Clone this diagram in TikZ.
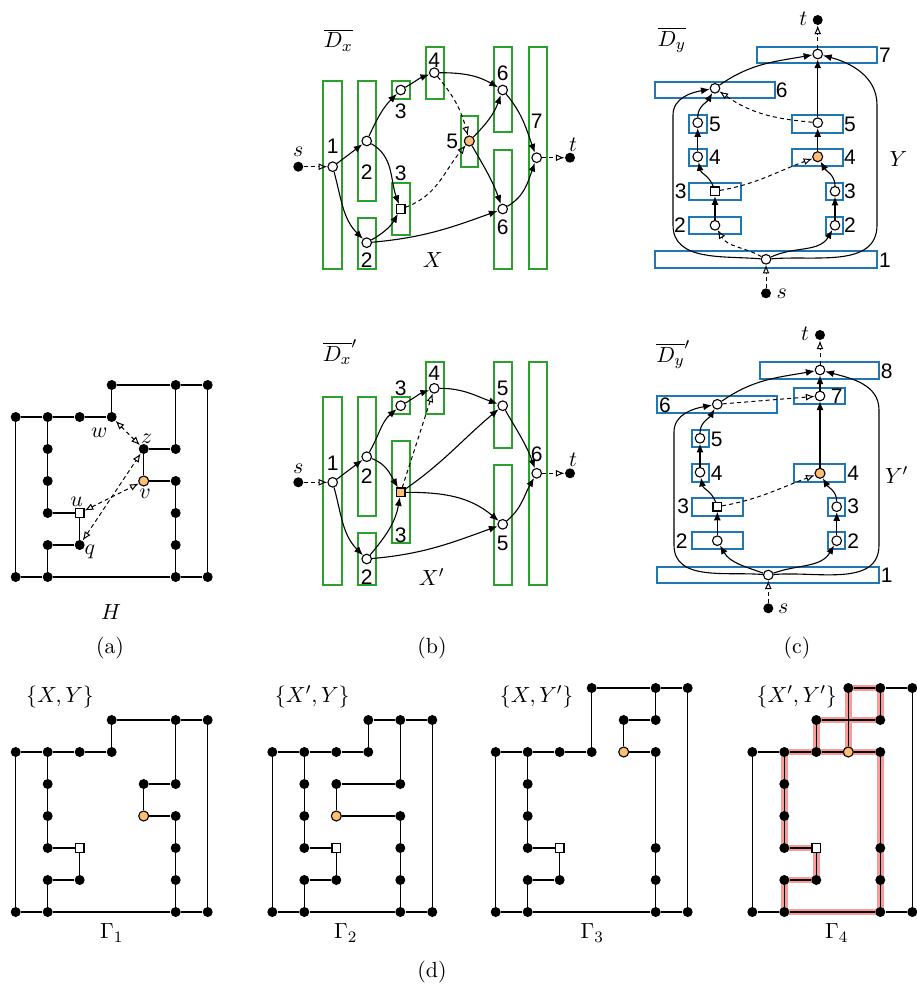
\documentclass[tikz,border=0pt]{standalone}
\usepackage{fontspec}
\newfontfamily\numfont{Liberation Sans}
\usetikzlibrary{arrows.meta,backgrounds}
\definecolor{mygreen}{RGB}{44,160,44}
\definecolor{myblue}{RGB}{31,119,180}
\definecolor{myorange}{RGB}{252,190,115}
\definecolor{myred}{RGB}{250,155,155}
\begin{document}
\begin{tikzpicture}[x=0.5pt,y=0.5pt,
  gdot/.style={circle,fill=black,inner sep=0pt,minimum size=5pt},
  odot/.style={circle,draw=black,fill=white,inner sep=0pt,minimum size=4.8pt,line width=0.55pt},
  orn/.style={circle,draw=black,fill=myorange,inner sep=0pt,minimum size=5pt,line width=0.55pt},
  sqn/.style={rectangle,draw=black,fill=white,inner sep=0pt,minimum size=4.3pt,line width=0.55pt},
  osq/.style={sqn,fill=myorange},
  gbox/.style={draw=mygreen,line width=1pt},
  bbox/.style={draw=myblue,line width=1pt},
  gline/.style={line width=0.65pt},
  hl/.style={line width=3.4pt,myred},
  arr/.style={line width=0.55pt,-{Latex[length=4.4pt,width=3.5pt]}},
  darr/.style={line width=0.5pt,dash pattern=on 2pt off 1.6pt,-{Latex[open,length=4.4pt,width=3.5pt]}},
  ddarr/.style={line width=0.5pt,dash pattern=on 2pt off 1.6pt,{Latex[open,length=4.4pt,width=3.5pt]}-{Latex[open,length=4.4pt,width=3.5pt]}},
  num/.style={font=\numfont\fontsize{10.5}{12}\selectfont,inner sep=0pt},
  lab/.style={font=\fontsize{10.95}{13}\selectfont,inner sep=0pt}]
\useasboundingbox (0,0) rectangle (916,-990);

% ---------------- (a) H ----------------
\begin{scope}[xshift=7.85pt,yshift=-192.5pt,x=16pt,y=-16pt]
\foreach \i/\j in {3/0,5/0,6/0,0/1,1/1,2/1,3/1,1/2,4/2,5/2,1/3,5/3,1/4,5/4,1/5,2/5,5/5,0/6,1/6,5/6,6/6}
  \node[gdot] (a\i\j) at (\i,\j) {};
\node[orn] (a43) at (4,3) {};
\node[sqn] (a24) at (2,4) {};
\draw[gline] (a30)--(a50)--(a60) (a30)--(a31) (a01)--(a11)--(a21)--(a31)
  (a50)--(a52) (a42)--(a52) (a42)--(a43) (a43)--(a53) (a53)--(a54)--(a55)--(a56)
  (a11)--(a12)--(a13)--(a14) (a14)--(a24)--(a25)--(a15)--(a16)
  (a01)--(a06) (a60)--(a66) (a06)--(a16)--(a56)--(a66);
\draw[ddarr] (a31)--(a42);
\draw[ddarr] (a24)--(a43);
\draw[ddarr] (a25)--(a42);
\end{scope}
\node[lab] at (99.3,-432.3) {$w$};
\node[lab] at (146.7,-438.3) {$z$};
\node[lab] at (76.7,-501.7) {$u$};
\node[lab] at (145,-494) {$v$};
\node[lab] at (90,-551.7) {$q$};
\node[lab] at (111,-612) {$H$};
\node[lab] at (110,-648) {(a)};

% ---------------- (b) top ----------------
\draw[gbox] (323.3,-81) rectangle (341.7,-269.3);
\draw[gbox] (357.7,-81) rectangle (376,-201);
\draw[gbox] (357.7,-217.7) rectangle (376,-269.3);
\draw[gbox] (392.3,-81) rectangle (410,-98.7);
\draw[gbox] (392.3,-183.3) rectangle (410,-235);
\draw[gbox] (426,-46.7) rectangle (444,-98.7);
\draw[gbox] (460.7,-115.7) rectangle (478.3,-166.7);
\draw[gbox] (494.3,-46.7) rectangle (512.3,-132);
\draw[gbox] (494.3,-150) rectangle (512.3,-269.3);
\draw[gbox] (529,-46.7) rectangle (546.7,-269.3);
\node[gdot] (bs) at (298.3,-166.7) {};
\node[odot] (b1) at (332.7,-166.7) {};
\node[odot] (b2a) at (366.7,-141) {};
\node[odot] (b2b) at (366.7,-242.7) {};
\node[odot] (b3a) at (400.7,-90) {};
\node[sqn] (b3b) at (400.7,-209) {};
\node[odot] (b4) at (434.3,-72.7) {};
\node[orn] (b5) at (469.3,-141) {};
\node[odot] (b6a) at (502.7,-90) {};
\node[odot] (b6b) at (502.7,-209) {};
\node[odot] (b7) at (536.7,-157.7) {};
\node[gdot] (bt) at (570,-157.7) {};
\draw[darr] (bs) -- (b1);
\draw[arr] (b1) -- (b2a);
\draw[arr] (b1) to[out=-75,in=135] (b2b);
\draw[arr] (b2a) to[out=65,in=225] (b3a);
\draw[arr] (b2a) to[out=-30,in=110] (b3b);
\draw[arr] (b2b) to[out=30,in=240] (b3b);
\draw[arr] (b2b) to[out=5,in=200] (b6b);
\draw[arr] (b3a) to[out=30,in=200] (b4);
\draw[arr] (b4) to[out=0,in=150] (b6a);
\draw[darr] (b4) to[out=-50,in=105] (b5);
\draw[darr] (b3b) to[out=20,in=230] (b5);
\draw[arr] (b5) to[out=45,in=250] (b6a);
\draw[arr] (b5) to[out=-60,in=110] (b6b);
\draw[arr] (b6a) to[out=-50,in=110] (b7);
\draw[arr] (b6b) to[out=30,in=250] (b7);
\draw[darr] (b7) -- (bt);
\node[num] at (332.7,-146.7) {1};
\node[num] at (366.7,-171.7) {2};
\node[num] at (366.7,-260) {2};
\node[num] at (400.7,-111.7) {3};
\node[num] at (400.7,-173.3) {3};
\node[num] at (434.3,-60) {4};
\node[num] at (452.3,-141) {5};
\node[num] at (502.7,-73.3) {6};
\node[num] at (502.7,-227.3) {6};
\node[num] at (536.7,-121.7) {7};
\node[lab] at (298.3,-151.7) {$s$};
\node[lab] at (573,-145) {$t$};
\node[lab] at (432.7,-260) {$X$};
\node[lab] at (338.3,-40) {$\overline{D_x}$};

% ---------------- (b) bottom ----------------
\draw[gbox] (323.3,-396.7) rectangle (341.7,-585);
\draw[gbox] (357.7,-396.7) rectangle (376,-516);
\draw[gbox] (357.7,-533.3) rectangle (376,-585);
\draw[gbox] (392.3,-396.7) rectangle (410,-414);
\draw[gbox] (392.3,-441) rectangle (410,-543.3);
\draw[gbox] (426,-362.3) rectangle (444,-414);
\draw[gbox] (494.3,-362.3) rectangle (512.3,-448.3);
\draw[gbox] (494.3,-465) rectangle (512.3,-585);
\draw[gbox] (529,-362.3) rectangle (546.7,-585);
\node[gdot] (es) at (298.3,-482.3) {};
\node[odot] (e1) at (332.7,-482.3) {};
\node[odot] (e2a) at (366.7,-456.7) {};
\node[odot] (e2b) at (366.7,-559) {};
\node[odot] (e3a) at (400.7,-405.7) {};
\node[osq] (e3b) at (400.7,-492.3) {};
\node[odot] (e4) at (434.3,-388.3) {};
\node[odot] (e5a) at (502.7,-405.7) {};
\node[odot] (e5b) at (502.7,-524.3) {};
\node[odot] (e6) at (536.7,-473.3) {};
\node[gdot] (et) at (570,-473.3) {};
\draw[darr] (es) -- (e1);
\draw[arr] (e1) -- (e2a);
\draw[arr] (e1) to[out=-75,in=135] (e2b);
\draw[arr] (e2a) to[out=60,in=220] (e3a);
\draw[arr] (e2a) to[out=-20,in=120] (e3b);
\draw[arr] (e2b) to[out=50,in=260] (e3b);
\draw[arr] (e2b) to[out=5,in=200] (e5b);
\draw[arr] (e3a) to[out=30,in=200] (e4);
\draw[darr] (e3b) -- (e4);
\draw[arr] (e3b) to[out=35,in=220] (e5a);
\draw[arr] (e3b) to[out=0,in=140] (e5b);
\draw[arr] (e4) to[out=0,in=160] (e5a);
\draw[arr] (e5a) to[out=-60,in=110] (e6);
\draw[arr] (e5b) to[out=40,in=240] (e6);
\draw[darr] (e6) -- (et);
\node[num] at (332.7,-463.3) {1};
\node[num] at (366.7,-475.7) {2};
\node[num] at (366.7,-576.7) {2};
\node[num] at (400.7,-388.3) {3};
\node[num] at (400.7,-535) {3};
\node[num] at (434.3,-373.3) {4};
\node[num] at (502.7,-388.3) {5};
\node[num] at (502.7,-543.3) {5};
\node[num] at (536.7,-454) {6};
\node[lab] at (298.3,-468.3) {$s$};
\node[lab] at (573,-460) {$t$};
\node[lab] at (431.7,-576.7) {$X'$};
\node[lab] at (340,-352) {$\overline{D_x}'$};
\node[lab] at (432,-648) {(b)};

% ---------------- (c) top ----------------
\draw[bbox] (757.3,-46.7) rectangle (876.7,-63.3);
\draw[bbox] (655,-81.7) rectangle (775,-97.7);
\draw[bbox] (689.3,-115) rectangle (706.7,-132.7);
\draw[bbox] (791.7,-115) rectangle (842.7,-132.7);
\draw[bbox] (689.3,-149) rectangle (706.7,-165.7);
\draw[bbox] (791.7,-149) rectangle (842.7,-165.7);
\draw[bbox] (689.3,-182.7) rectangle (741,-200);
\draw[bbox] (826,-182.7) rectangle (842.7,-200);
\draw[bbox] (689.3,-216.7) rectangle (741,-234);
\draw[bbox] (826,-216.7) rectangle (842.7,-234);
\draw[bbox] (655,-250.7) rectangle (877.3,-267.7);
\node[gdot] (cs) at (766,-293.3) {};
\node[odot] (c1) at (766,-259.3) {};
\node[odot] (c2L) at (715,-225.3) {};
\node[odot] (c2R) at (835,-225.3) {};
\node[sqn] (c3L) at (715,-191.3) {};
\node[odot] (c3R) at (835,-191.3) {};
\node[odot] (c4L) at (697.7,-156.7) {};
\node[orn] (c4R) at (817.7,-156.7) {};
\node[odot] (c5L) at (697.7,-122.7) {};
\node[odot] (c5R) at (817.7,-122.7) {};
\node[odot] (c6) at (715,-88.3) {};
\node[odot] (c7) at (817.7,-54) {};
\node[gdot] (ct) at (817.7,-20) {};
\draw[darr] (cs) -- (c1);
\draw[darr] (c1) to[out=150,in=-60] (c2L);
\draw[arr] (c1) to[out=25,in=-120] (c2R);
\draw[arr] (c1) to[out=175,in=-90] (673,-225) -- (673,-115) to[out=90,in=190] (c6);
\draw[arr] (c1) to[out=5,in=-90] (877,-225) -- (877,-105) to[out=90,in=-15] (c7);
\draw[arr] (c2L) -- (c3L);
\draw[arr] (c2R) -- (c3R);
\draw[arr] (c3L) to[out=110,in=-80] (c4L);
\draw[arr] (c4L) -- (c5L);
\draw[arr] (c5L) to[out=90,in=-120] (c6);
\draw[darr] (c3L) to[out=10,in=200] (c4R);
\draw[arr] (c3R) to[out=90,in=-60] (c4R);
\draw[arr] (c4R) -- (c5R);
\draw[arr] (c5R) -- (c7);
\draw[darr] (c5R) to[out=175,in=-35] (c6);
\draw[arr] (c6) to[out=35,in=190] (c7);
\draw[darr] (c7) -- (ct);
\node[num] at (885,-55) {7};
\node[num] at (781.7,-90) {6};
\node[num] at (715,-124) {5};
\node[num] at (850,-124) {5};
\node[num] at (715,-157.3) {4};
\node[num] at (850,-157.3) {4};
\node[num] at (680.7,-191.3) {3};
\node[num] at (850,-191.3) {3};
\node[num] at (680,-225.3) {2};
\node[num] at (850,-225.3) {2};
\node[num] at (885,-260) {1};
\node[lab] at (898.3,-159.3) {$Y$};
\node[lab] at (803.3,-18.3) {$t$};
\node[lab] at (781.7,-293.3) {$s$};
\node[lab] at (671.7,-40) {$\overline{D_y}$};

% ---------------- (c) bottom ----------------
\draw[bbox] (760,-361.7) rectangle (879.3,-379);
\draw[bbox] (794.3,-387.7) rectangle (845,-404.3);
\draw[bbox] (657.3,-396) rectangle (776.7,-412.7);
\draw[bbox] (691.7,-430) rectangle (709,-446.7);
\draw[bbox] (691.7,-464.3) rectangle (709,-481.7);
\draw[bbox] (794.3,-464.3) rectangle (845,-481.7);
\draw[bbox] (691.7,-498.3) rectangle (742.7,-516);
\draw[bbox] (828.3,-498.3) rectangle (845,-516);
\draw[bbox] (691.7,-532.3) rectangle (742.7,-549.3);
\draw[bbox] (828.3,-532.3) rectangle (845,-549.3);
\draw[bbox] (657.3,-566.7) rectangle (879.3,-583.3);
\node[gdot] (ds) at (768.3,-608.3) {};
\node[odot] (d1) at (768.3,-575) {};
\node[odot] (d2L) at (717.3,-540.7) {};
\node[odot] (d2R) at (836.7,-540.7) {};
\node[sqn] (d3L) at (717.3,-506.7) {};
\node[odot] (d3R) at (836.7,-506.7) {};
\node[odot] (d4L) at (700,-472.3) {};
\node[orn] (d4R) at (820,-473.3) {};
\node[odot] (d5) at (700,-438.3) {};
\node[odot] (d6) at (717.3,-404.3) {};
\node[odot] (d7) at (820,-396) {};
\node[odot] (d8) at (820,-370) {};
\node[gdot] (dt) at (820,-335) {};
\draw[darr] (ds) -- (d1);
\draw[arr] (d1) to[out=160,in=-60] (d2L);
\draw[arr] (d1) to[out=20,in=-120] (d2R);
\draw[arr] (d1) to[out=175,in=-90] (674,-545) -- (674,-432) to[out=90,in=190] (d6);
\draw[arr] (d1) to[out=5,in=-90] (879,-545) -- (879,-410) to[out=90,in=-15] (d8);
\draw[arr] (d2L) -- (d3L);
\draw[arr] (d2R) -- (d3R);
\draw[arr] (d3L) to[out=110,in=-80] (d4L);
\draw[arr] (d4L) -- (d5);
\draw[arr] (d5) to[out=90,in=-120] (d6);
\draw[darr] (d3L) to[out=10,in=200] (d4R);
\draw[arr] (d3R) to[out=90,in=-60] (d4R);
\draw[arr] (d4R) -- (d7);
\draw[darr] (d6) -- (d7);
\draw[arr] (d7) -- (d8);
\draw[arr] (d6) to[out=35,in=190] (d8);
\draw[darr] (d8) -- (dt);
\node[num] at (886.7,-371.7) {8};
\node[num] at (836.7,-396.7) {7};
\node[num] at (665,-405) {6};
\node[num] at (716.7,-439) {5};
\node[num] at (716.7,-473.3) {4};
\node[num] at (853.3,-473.3) {4};
\node[num] at (683.3,-506.7) {3};
\node[num] at (853.3,-506.7) {3};
\node[num] at (681.7,-540.7) {2};
\node[num] at (853.3,-540.7) {2};
\node[num] at (886.7,-575) {1};
\node[lab] at (896.7,-475) {$Y'$};
\node[lab] at (805,-333.3) {$t$};
\node[lab] at (783.3,-608.3) {$s$};
\node[lab] at (673.3,-355) {$\overline{D_y}'$};
\node[lab] at (797,-648) {(c)};

% ---------------- (d) Gamma 1 ----------------
\begin{scope}[xshift=7.85pt,yshift=-360pt,x=16pt,y=-16pt]
\foreach \i/\j in {3/0,5/0,6/0,0/1,1/1,2/1,3/1,1/2,4/2,5/2,1/3,5/3,1/4,5/4,1/5,2/5,5/5,0/6,1/6,5/6,6/6}
  \node[gdot] (f\i\j) at (\i,\j) {};
\node[orn] (f43) at (4,3) {};
\node[sqn] (f24) at (2,4) {};
\draw[gline] (f30)--(f50)--(f60) (f30)--(f31) (f01)--(f11)--(f21)--(f31)
  (f50)--(f52) (f42)--(f52) (f42)--(f43) (f43)--(f53) (f53)--(f54)--(f55)--(f56)
  (f11)--(f12)--(f13)--(f14) (f14)--(f24)--(f25)--(f15)--(f16)
  (f01)--(f06) (f60)--(f66) (f06)--(f16)--(f56)--(f66);
\end{scope}
\node[lab] at (60,-696.7) {$\{X,Y\}$};
\node[lab] at (111.7,-933) {$\Gamma_1$};

% ---------------- (d) Gamma 2 ----------------
\begin{scope}[xshift=136.15pt,yshift=-360pt,x=16pt,y=-16pt]
\foreach \i/\j in {3/0,4/0,5/0,0/1,1/1,2/1,3/1,1/2,2/2,4/2,1/3,4/3,1/4,4/4,1/5,2/5,4/5,0/6,1/6,4/6,5/6}
  \node[gdot] (g\i\j) at (\i,\j) {};
\node[orn] (g23) at (2,3) {};
\node[sqn] (g24) at (2,4) {};
\draw[gline] (g30)--(g40)--(g50) (g30)--(g31) (g01)--(g11)--(g21)--(g31)
  (g40)--(g42) (g22)--(g42) (g22)--(g23) (g23)--(g43) (g43)--(g44)--(g45)--(g46)
  (g11)--(g12)--(g13)--(g14) (g14)--(g24)--(g25)--(g15)--(g16)
  (g01)--(g06) (g50)--(g56) (g06)--(g16)--(g46)--(g56);
\end{scope}
\node[lab] at (312.3,-696.7) {$\{X',Y\}$};
\node[lab] at (345.7,-933) {$\Gamma_2$};

% ---------------- (d) Gamma 3 ----------------
\begin{scope}[xshift=247.85pt,yshift=-344pt,x=16pt,y=-16pt]
\foreach \i/\j in {3/0,5/0,6/0,4/1,5/1,0/2,1/2,2/2,3/2,5/2,1/3,1/4,1/5,5/5,1/6,2/6,5/6,0/7,1/7,5/7,6/7}
  \node[gdot] (h\i\j) at (\i,\j) {};
\node[orn] (h42) at (4,2) {};
\node[sqn] (h25) at (2,5) {};
\draw[gline] (h30)--(h50)--(h60) (h30)--(h32) (h50)--(h51) (h41)--(h51) (h41)--(h42) (h42)--(h52)
  (h02)--(h12)--(h22)--(h32) (h52)--(h55)--(h56)--(h57)
  (h12)--(h13)--(h14)--(h15) (h15)--(h25)--(h26)--(h16)--(h17)
  (h02)--(h07) (h60)--(h67) (h07)--(h17)--(h57)--(h67);
\end{scope}
\node[lab] at (536.7,-696.7) {$\{X,Y'\}$};
\node[lab] at (592.3,-933) {$\Gamma_3$};

% ---------------- (d) Gamma 4 ----------------
\begin{scope}[xshift=376.15pt,yshift=-344pt,x=16pt,y=-16pt]
\foreach \i/\j in {3/0,4/0,5/0,2/1,4/1,0/2,1/2,2/2,4/2,1/3,1/4,1/5,4/5,1/6,2/6,4/6,0/7,1/7,4/7,5/7}
  \node[gdot] (k\i\j) at (\i,\j) {};
\node[orn] (k32) at (3,2) {};
\node[sqn] (k25) at (2,5) {};
\begin{pgfonlayer}{background}
\draw[hl] (k30.center)--(k40.center)--(k41.center)--(k21.center)--(k22.center);
\draw[hl] (k30.center)--(k32.center);
\draw[hl] (k12.center)--(k42.center)--(k47.center)--(k17.center)--(k16.center)--(k26.center)--(k25.center)--(k15.center)--(k12.center);
\end{pgfonlayer}
\draw[gline] (k30)--(k40)--(k50) (k30)--(k32) (k40)--(k41) (k21)--(k41) (k21)--(k22)
  (k02)--(k12)--(k22)--(k32)--(k42) (k42)--(k45)--(k46)--(k47)
  (k12)--(k13)--(k14)--(k15) (k15)--(k25)--(k26)--(k16)--(k17)
  (k02)--(k07) (k50)--(k57) (k07)--(k17)--(k47)--(k57);
\end{scope}
\node[lab] at (796.7,-696.7) {$\{X',Y'\}$};
\node[lab] at (836.7,-933) {$\Gamma_4$};
\node[lab] at (432,-972) {(d)};
\end{tikzpicture}
\end{document}
